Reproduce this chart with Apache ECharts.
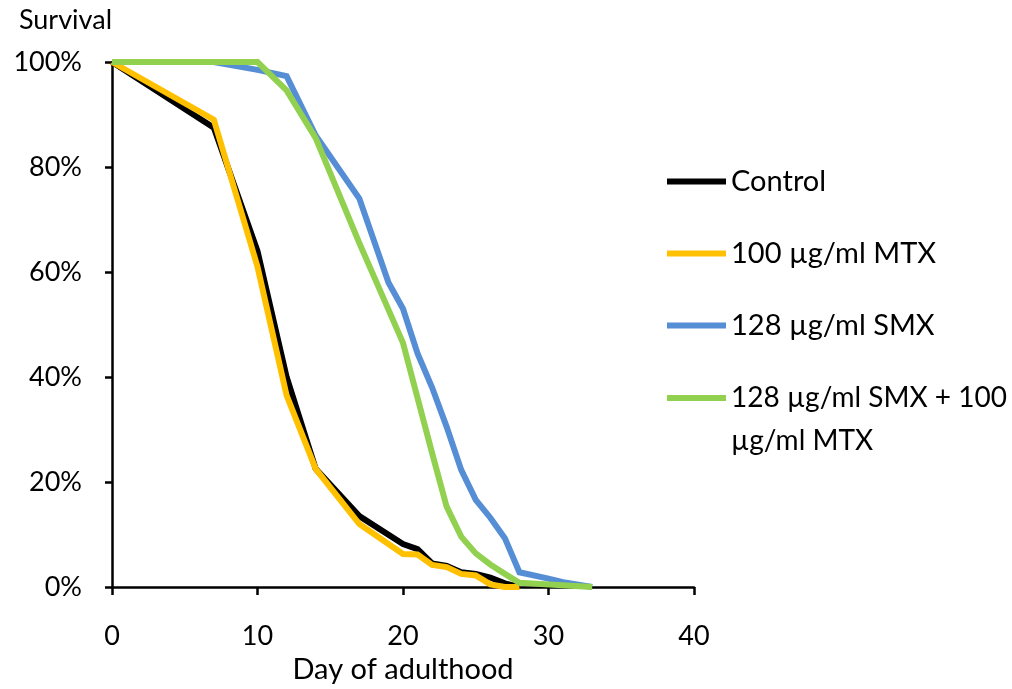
<!DOCTYPE html>
<html>
<head>
<meta charset="utf-8">
<script src="https://cdn.jsdelivr.net/npm/echarts@6/dist/echarts.min.js"></script>
<style>
html,body{margin:0;padding:0;background:#fff;}
#c{width:1012px;height:689px;}
</style>
</head>
<body>
<div id="c"></div>
<script>
// Days of adulthood for each series
const controlDays = [0, 7, 10, 12, 14, 17, 20, 21, 22, 23, 24, 25, 26, 27, 28];
const controlVals = [100, 87.5, 64, 40, 22.5, 13.5, 8.2, 7.2, 4.5, 4.0, 2.8, 2.5, 1.8, 0.7, 0];
const mtxDays = [0, 7, 10, 12, 14, 17, 20, 21, 22, 23, 24, 25, 26, 27, 28];
const mtxVals = [100, 89, 61, 36.5, 22.5, 12, 6.3, 6.2, 4.2, 3.8, 2.5, 2.2, 0.5, 0, 0];
const smxDays = [0, 7, 10, 12, 14, 17, 19, 20, 21, 22, 23, 24, 25, 26, 27, 28, 30, 31, 33];
const smxVals = [100, 100, 98.5, 97.3, 86, 74, 58, 53, 44.5, 38, 30.5, 22.3, 16.6, 13.2, 9.3, 2.8, 1.6, 0.9, 0];
const comboDays = [0, 7, 10, 12, 14, 17, 20, 21, 22, 23, 24, 25, 26, 27, 28, 33];
const comboVals = [100, 100, 100, 94.6, 85.5, 65.5, 46.5, 36, 25.5, 15.3, 9.6, 6.4, 4.3, 2.5, 0.8, 0];

const seriesNames = ['Control', '100 µg/ml MTX', '128 µg/ml SMX', '128 µg/ml SMX + 100 µg/ml MTX'];
const comboLegendLines = ['128 µg/ml SMX + 100', 'µg/ml MTX'];
const seriesColors = ['#000000', '#FFC000', '#558ED5', '#92D050'];
const xTicks = [0, 10, 20, 30, 40];
const yTicks = [0, 20, 40, 60, 80, 100];

const FONT = 'Lato';
const FS_TICK = 27;
const FS = 29;
const FS4 = 28;
const LH = 43;

function pairs(xs, ys) { return xs.map((x, i) => [x, ys[i]]); }
const allData = [pairs(controlDays, controlVals), pairs(mtxDays, mtxVals), pairs(smxDays, smxVals), pairs(comboDays, comboVals)];

const chart = echarts.init(document.getElementById('c'), null, {renderer: 'canvas'});

const legendBase = {
  orient: 'vertical', left: 662, itemWidth: 59, itemHeight: 6, icon: 'rect',
  itemGap: 43, textStyle: {fontFamily: FONT, fontSize: FS, color: '#000'}
};

chart.setOption({
  animation: false,
  backgroundColor: '#fff',
  grid: {left: 112, right: 318, top: 62, bottom: 102, containLabel: false, outerBoundsMode: 'none'},
  legend: [
    Object.assign({}, legendBase, {top: 162, data: seriesNames.slice(0, 3)}),
    Object.assign({}, legendBase, {
      top: 336, data: [seriesNames[3]],
      formatter: () => '{e| }\n{a|' + comboLegendLines[0] + '}\n{a|' + comboLegendLines[1] + '}',
      textStyle: {fontFamily: FONT, fontSize: FS4, color: '#000',
        rich: {e: {fontSize: FS4, lineHeight: LH}, a: {fontFamily: FONT, fontSize: FS4, color: '#000', lineHeight: LH}}}
    })
  ],
  xAxis: {
    type: 'value', min: xTicks[0], max: xTicks[xTicks.length - 1], interval: 10,
    name: 'Day of adulthood', nameLocation: 'middle', nameGap: 68,
    nameTextStyle: {fontFamily: FONT, fontSize: FS, color: '#000'},
    axisLine: {lineStyle: {color: '#000', width: 2.5}},
    axisTick: {show: true, inside: false, length: 8, lineStyle: {color: '#000', width: 2.5}},
    axisLabel: {fontFamily: FONT, fontSize: FS_TICK, color: '#000', margin: 36},
    splitLine: {show: false}
  },
  yAxis: {
    type: 'value', min: yTicks[0], max: yTicks[yTicks.length - 1], interval: 20,
    name: 'Survival', nameLocation: 'end', nameGap: 42,
    nameTextStyle: {fontFamily: FONT, fontSize: FS_TICK, color: '#000', align: 'right', verticalAlign: 'middle'},
    axisLine: {show: true, lineStyle: {color: '#000', width: 2.5}},
    axisTick: {show: true, inside: false, length: 7, lineStyle: {color: '#000', width: 2.5}},
    axisLabel: {fontFamily: FONT, fontSize: FS_TICK, color: '#000', margin: 30, formatter: v => v + '%'},
    splitLine: {show: false}
  },
  series: allData.map((d, i) => ({
    name: seriesNames[i], type: 'line', data: d, showSymbol: false, symbol: 'none',
    lineStyle: {color: seriesColors[i], width: 6, join: 'miter'},
    itemStyle: {color: seriesColors[i]},
    z: 2 + i
  }))
});
</script>
</body>
</html>
